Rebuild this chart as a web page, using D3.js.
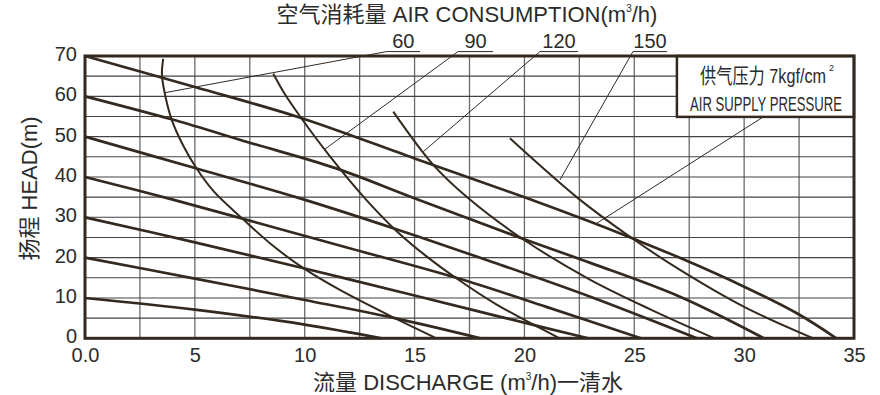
<!DOCTYPE html>
<html>
<head>
<meta charset="utf-8">
<script src="https://cdn.jsdelivr.net/npm/d3@7"></script>
<style>
    body { margin: 0; background: #fff; }
    text { font-family: "Liberation Sans", "Noto Sans CJK SC", sans-serif; fill: #2b2b2b; }
</style>
</head>
<body>
<div id="chart"></div>
<script>
// ticks + grid
var flowTicks = [0, 5, 10, 15, 20, 25, 30, 35];
var headTicks = [0, 10, 20, 30, 40, 50, 60, 70];
var flowGrid = [2.5, 5, 7.5, 10, 12.5, 15, 17.5, 20, 22.5, 25, 27.5, 30, 32.5];
var headGrid = [5, 10, 15, 20, 25, 30, 35, 40, 45, 50, 55, 60, 65];

// constant air pressure curves [flow m3/h, head m], named by shut-off head
var p70 = [[0, 70], [5, 62.3], [9.8, 54.7], [15, 44.6], [20.1, 34.8], [23, 28.9], [25, 24.6], [27.1, 19.9], [30, 12.8], [32.4, 6.2], [34.2, 0]];
var p60 = [[0, 60], [3.94, 54.3], [7.5, 48.5], [11.4, 42.2], [14.87, 35], [19.87, 24.8], [23, 18.7], [27.08, 10.3], [30.9, 0]];
var p50 = [[0, 50], [5.08, 42.1], [9.79, 34.7], [14.2, 27], [18.5, 19], [23, 10.3], [27.85, 0]];
var p40 = [[0, 40], [4, 34.4], [8, 28.4], [12, 22.4], [16.9, 15], [21, 7.8], [25.3, 0]];
var p30 = [[0, 30], [5, 23.8], [10, 17.3], [15, 10.6], [19, 5.2], [22.9, 0]];
var p20 = [[0, 20], [5, 14.8], [10, 9.5], [14.1, 5], [18, 0]];
var p10 = [[0, 10], [5, 7.1], [10, 3.4], [13.5, 0]];

// constant air consumption curves
var a60 = [[3.56, 69.3], [3.5, 65.5], [3.62, 61], [3.94, 54.3], [4.45, 48], [5.08, 42.1], [5.85, 36.5], [7.2, 29.5], [8.5, 23.2], [9.94, 17.4], [11.6, 12], [14.1, 5], [16, 0]];
var a90 = [[8.57, 65.6], [9.1, 60.5], [9.79, 55], [11.15, 45.1], [12.74, 34.7], [14.2, 26.5], [15.5, 20.5], [16.9, 14.9], [18.7, 8.5], [21.6, 0]];
var a120 = [[14.03, 56.2], [15.85, 43], [17.45, 34.7], [19.87, 24.8], [23, 14.5], [25.8, 7], [28.65, 0]];
var a150 = [[19.34, 49.6], [22.45, 34.7], [24.9, 24.8], [27.1, 16.9], [30, 7.8], [33.15, 0]];

var airLabels = ['60', '90', '120', '150'];
// leader lines: curve point -> label foot -> end of underline
var leaders = [
    [[3.64, 60.9], [13.73, 71.1], [15.25, 71.1]],
    [[10.92, 46.9], [16.98, 71.1], [18.57, 71.1]],
    [[15.4, 46.3], [20.71, 71.1], [22.44, 71.1]],
    [[21.62, 39.3], [24.94, 71.1], [26.49, 71.1]]
];
var pressureLeader = [[23.29, 28.5], [30.87, 54.9]];
var legendBox = [[26.94, 70], [35, 54.9]];

var width = 880, height = 395;
var ink = '#33291f';

var svg = d3.select('#chart')
    .append('svg')
    .attr('width', width)
    .attr('height', height);

var x = d3.scaleLinear().domain([0, 35]).range([85, 854]);
var y = d3.scaleLinear().domain([0, 70]).range([338.3, 56]);

// grid
svg.append('g')
    .selectAll('line')
    .data(flowGrid)
    .enter()
    .append('line')
    .attr('x1', d => x(d)).attr('x2', d => x(d))
    .attr('y1', y(0)).attr('y2', y(70))
    .attr('stroke', '#6a6a6a')
    .attr('stroke-width', 1.3);

svg.append('g')
    .selectAll('line')
    .data(headGrid)
    .enter()
    .append('line')
    .attr('x1', x(0)).attr('x2', x(35))
    .attr('y1', d => y(d)).attr('y2', d => y(d))
    .attr('stroke', '#444')
    .attr('stroke-width', 1.1);

// legend box covers the grid
svg.append('rect')
    .attr('x', x(legendBox[0][0]))
    .attr('y', y(legendBox[0][1]))
    .attr('width', x(legendBox[1][0]) - x(legendBox[0][0]))
    .attr('height', y(legendBox[1][1]) - y(legendBox[0][1]))
    .attr('fill', '#fff')
    .attr('stroke', ink)
    .attr('stroke-width', 2.5);

var legend = svg.append('g');
legend.append('text')
    .attr('x', 700).attr('y', 83)
    .attr('font-size', 21)
    .attr('textLength', 126)
    .attr('lengthAdjust', 'spacingAndGlyphs')
    .text('供气压力 7kgf/cm');
legend.append('text')
    .attr('x', 829).attr('y', 71)
    .attr('font-size', 9)
    .text('2');
legend.append('text')
    .attr('x', 690).attr('y', 110.5)
    .attr('font-size', 19.5)
    .attr('textLength', 152)
    .attr('lengthAdjust', 'spacingAndGlyphs')
    .text('AIR SUPPLY PRESSURE');

// frame
svg.append('rect')
    .attr('x', x(0)).attr('y', y(70))
    .attr('width', x(35) - x(0))
    .attr('height', y(0) - y(70))
    .attr('fill', 'none')
    .attr('stroke', ink)
    .attr('stroke-width', 3);

var line = d3.line()
    .x(d => x(d[0]))
    .y(d => y(d[1]))
    .curve(d3.curveCatmullRom.alpha(0.5));

// leader lines
var thin = d3.line().x(d => x(d[0])).y(d => y(d[1]));
svg.append('g')
    .selectAll('path')
    .data(leaders.concat([pressureLeader]))
    .enter()
    .append('path')
    .attr('d', thin)
    .attr('fill', 'none')
    .attr('stroke', ink)
    .attr('stroke-width', 1);

svg.append('g')
    .selectAll('text')
    .data(leaders)
    .enter()
    .append('text')
    .attr('x', d => (x(d[1][0]) + x(d[2][0])) / 2)
    .attr('y', d => y(d[1][1]) - 4)
    .attr('text-anchor', 'middle')
    .attr('font-size', 20)
    .text((d, i) => airLabels[i]);

// air consumption curves
svg.append('g')
    .selectAll('path')
    .data([a60, a90, a120, a150])
    .enter()
    .append('path')
    .attr('d', line)
    .attr('fill', 'none')
    .attr('stroke', ink)
    .attr('stroke-width', 2);

// pressure curves
svg.append('g')
    .selectAll('path')
    .data([p70, p60, p50, p40, p30, p20, p10])
    .enter()
    .append('path')
    .attr('d', line)
    .attr('fill', 'none')
    .attr('stroke', ink)
    .attr('stroke-width', 2.7);

// axes (font size set after call, the axis resets it)
svg.append('g')
    .attr('transform', 'translate(0,' + y(0) + ')')
    .call(d3.axisBottom(x).tickValues(flowTicks).tickSize(0).tickPadding(9.5)
        .tickFormat(d => d === 0 ? '0.0' : d))
    .attr('font-size', 20)
    .call(g => g.select('.domain').remove());

svg.append('g')
    .attr('transform', 'translate(' + x(0) + ',0)')
    .call(d3.axisLeft(y).tickValues(headTicks).tickSize(0).tickPadding(8))
    .attr('font-size', 20)
    .call(g => g.select('.domain').remove())
    .call(g => g.selectAll('text').attr('dy', '0.23em'));

// titles
var title = svg.append('text')
    .attr('x', 467).attr('y', 21.5)
    .attr('text-anchor', 'middle')
    .attr('font-size', 22);
title.append('tspan').text('空气消耗量 AIR CONSUMPTION(m');
title.append('tspan').attr('font-size', 10).attr('dy', -10).text('3');
title.append('tspan').attr('dy', 10).text('/h)');

var xTitle = svg.append('text')
    .attr('x', 468).attr('y', 390)
    .attr('text-anchor', 'middle')
    .attr('font-size', 22);
xTitle.append('tspan').text('流量 DISCHARGE (m');
xTitle.append('tspan').attr('font-size', 10).attr('dy', -10).text('3');
xTitle.append('tspan').attr('dy', 10).text('/h)一清水');

svg.append('text')
    .attr('transform', 'translate(37,188.5) rotate(-90)')
    .attr('text-anchor', 'middle')
    .attr('font-size', 22)
    .text('扬程 HEAD(m)');
</script>
</body>
</html>
